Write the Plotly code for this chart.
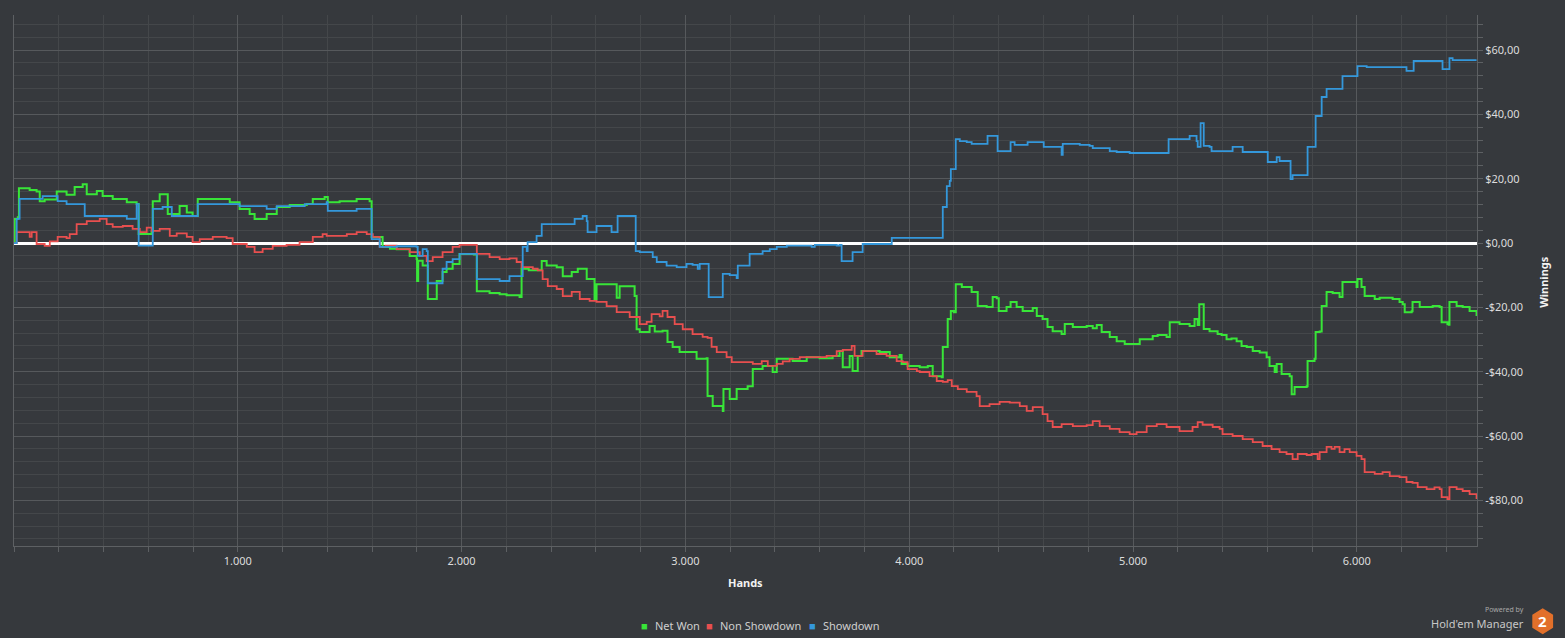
import plotly.graph_objects as go

# Net Won (green) - hands / dollars
net_hands = [0, 3, 17, 22, 70, 101, 115, 137, 191, 235, 271, 307, 325, 370, 396, 441, 504, 548, 557, 615,
             620, 651, 673, 687, 740, 772, 798, 821, 919, 964, 1008, 1053, 1075, 1129, 1174, 1232, 1308, 1335,
             1388, 1402, 1455, 1531, 1589, 1598, 1647, 1680, 1710, 1768, 1799, 1801, 1806, 1826, 1849, 1871,
             1889, 1915, 1933, 1960, 1991, 2036, 2055, 2068, 2125, 2170, 2201, 2259, 2268, 2300, 2358, 2380,
             2425, 2452, 2492, 2519, 2559, 2594, 2603, 2648, 2693, 2706, 2751, 2773, 2782, 2796, 2840, 2863,
             2898, 2920, 2943, 2974, 3010, 3050, 3095, 3099, 3122, 3167, 3170, 3198, 3229, 3278, 3301, 3345,
             3390, 3408, 3479, 3542, 3600, 3658, 3689, 3703, 3734, 3747, 3770, 3787, 3868, 3913, 3957, 3966,
             3993, 4047, 4083, 4105, 4145, 4150, 4163, 4172, 4186, 4199, 4208, 4235, 4279, 4306, 4346, 4373,
             4391, 4400, 4435, 4453, 4480, 4507, 4552, 4570, 4596, 4618, 4641, 4681, 4695, 4731, 4793, 4820,
             4838, 4860, 4896, 4927, 4963, 4999, 5030, 5088, 5110, 5150, 5164, 5208, 5253, 5275, 5289, 5296,
             5311, 5316, 5342, 5378, 5396, 5418, 5440, 5463, 5485, 5508, 5535, 5566, 5597, 5610, 5633, 5642,
             5664, 5700, 5709, 5722, 5776, 5780, 5811, 5816, 5834, 5843, 5856, 5865, 5892, 5923, 5936, 5999,
             6003, 6021, 6035, 6080, 6102, 6160, 6191, 6205, 6214, 6245, 6249, 6281, 6339, 6370, 6379, 6405,
             6410, 6414, 6446, 6473, 6504, 6535]
net_won = [0, 7.5, 8, 17, 16.5, 16, 13, 13.5, 16, 15, 17.4, 18.3, 15.2, 16.2, 14.6, 13.7, 12.7, 12.1, 2.8, 3.5,
           13, 15.2, 15.2, 9, 11.5, 9.5, 8.4, 13.7, 13.7, 12.7, 10.6, 9, 7.5, 9, 11.2, 11.8, 12.1, 13.7,
           14.3, 12.7, 13, 13.7, 13, 1.9, -1.2, -1.8, -1.9, -4, -5, -11.8, -5.5, -7, -17.4, -17.4,
           -11.8, -9, -8, -6.5, -3.4, -3.4, -3.6, -15, -15.5, -15.9, -16.2, -16.8, -8, -8.5, -5.6, -7,
           -7.5, -10.3, -9, -8, -11.2, -17.4, -12.8, -12.8, -17, -13.4, -13.4, -16.5, -26.8, -27.7, -25.8, -27.5,
           -27.3, -30.8, -32.3, -33.9, -33.9, -36, -35.8, -47.6, -50.7, -52.2, -45.4, -48.5, -45.4, -44.5, -39.2, -38.2,
           -40.1, -36, -36.7, -35.5, -35.8, -35.1, -33.6, -38.6, -35.1, -39.8, -35.1, -33.6, -33.9, -35.5, -34.8, -37.6,
           -38.2, -38.6, -38.2, -41.4, -41.7, -32.3, -32.3, -23.6, -21.1, -21.5, -12.8, -13.7, -15.2, -19.6, -19.9, -16.8,
           -17.2, -21.1, -19.9, -18.3, -19.9, -21.1, -20.2, -22.7, -23.6, -26.1, -27.4, -28.3, -25.2, -26.1, -25.8, -26.5,
           -25.5, -27.7, -29.2, -30.5, -31.4, -31.4, -29.9, -28.9, -28.6, -29.2, -24.6, -25.2, -25.8, -23.6, -25.5, -19,
           -19, -26.7, -27.4, -28.3, -28.6, -29.9, -29.7, -30.5, -32, -32.3, -33.6, -34, -35.5, -38.2, -40.1, -37.6,
           -40.7, -41.4, -47, -44.8, -44.5, -36.7, -36, -27.7, -27.5, -19.6, -19.6, -15.2, -15.5, -16.8, -12.1, -13.7,
           -11.2, -13.7, -16.5, -17.4, -17, -17.4, -18.3, -19, -21.5, -21.2, -18.3, -19.9, -19.6, -19.9, -24.6, -25.2,
           -25.4, -18.3, -19.6, -19.9, -21.1, -22.7]

# Non Showdown (red)
nsd_hands = [0, 12, 70, 79, 101, 137, 160, 195, 235, 249, 280, 325, 383, 414, 441, 486, 530, 562, 593, 615,
             651, 696, 727, 772, 798, 830, 888, 950, 977, 1040, 1075, 1111, 1156, 1218, 1276, 1335, 1379, 1397,
             1487, 1531, 1576, 1603, 1634, 1660, 1710, 1768, 1813, 1844, 1871, 1915, 1960, 1991, 2050, 2068,
             2125, 2170, 2214, 2246, 2268, 2318, 2340, 2362, 2385, 2425, 2452, 2492, 2528, 2572, 2603, 2648,
             2693, 2751, 2796, 2827, 2849, 2885, 2898, 2920, 2952, 2988, 3032, 3077, 3099, 3117, 3140, 3184,
             3207, 3256, 3301, 3341, 3368, 3408, 3435, 3466, 3511, 3587, 3631, 3676, 3703, 3743, 3756, 3792,
             3854, 3899, 3944, 3971, 3993, 4034, 4047, 4091, 4123, 4150, 4172, 4190, 4217, 4257, 4301, 4315,
             4359, 4404, 4449, 4494, 4525, 4552, 4596, 4618, 4641, 4681, 4731, 4793, 4820, 4851, 4896, 4940,
             4985, 5016, 5061, 5106, 5150, 5208, 5266, 5289, 5311, 5356, 5387, 5400, 5445, 5490, 5535, 5579,
             5619, 5655, 5686, 5713, 5736, 5776, 5798, 5825, 5834, 5865, 5887, 5901, 5923, 5945, 5968, 5999,
             6021, 6035, 6080, 6115, 6147, 6191, 6222, 6249, 6272, 6312, 6347, 6370, 6379, 6405, 6414, 6446,
             6473, 6504, 6535]
non_showdown = [0, 3.4, 1.9, 3.4, -0.3, -0.9, 0.5, 1.9, 1.5, 2.8, 5.9, 6.8, 7.5, 5.9, 5, 5.3, 4.4, 3.4, 4.8, 3.8,
                4.4, 2.2, 3, 1.9, 0.3, 1.2, 1.9, 1.5, -0.3, -1.2, -2.8, -1.8, -0.9, -0.6, 0.3, 1.9, 2.8, 2.2,
                2.8, 3.4, 2.8, 1.9, -1.2, -0.8, -1.9, -2.8, -4, -5.6, -4.4, -2.8, -1.2, -0.6, -0.6, -3.4,
                -4.4, -5, -4.8, -5.9, -7.5, -8, -8.5, -11.2, -13.4, -14.3, -16.5, -15.2, -17.4, -18, -18.3, -19.6,
                -21.5, -23, -25.2, -24.5, -22.1, -22.8, -21.1, -23, -25.2, -26.8, -28.3, -29.2, -29.5, -32.3, -33.9, -35.5,
                -37, -37, -37.6, -36.7, -38.2, -37.6, -36.8, -36, -35.5, -35.5, -35.1, -33.6, -33.2, -32, -35.1, -33.6,
                -34.5, -35.1, -36.7, -37, -39.2, -39.8, -40.1, -41.4, -42.9, -43.2, -42.6, -44.5, -45.4, -46.3, -47.6, -50.7,
                -50.1, -49.4, -49.6, -50.7, -52.2, -51, -53.2, -55.4, -57.2, -56.3, -56.9, -56.6, -55.4, -56.9, -57.8, -58.8,
                -59.4, -58.8, -56.9, -56.3, -57.2, -58.5, -57.2, -55.7, -56.5, -57.2, -57.8, -59.4, -60, -61, -61.9, -63.1,
                -64.1, -65, -65.6, -67.2, -65.6, -65.9, -65.6, -67.2, -65, -63.4, -64, -63.4, -65, -64.1, -65, -66.2,
                -67.2, -71.2, -71.8, -71.2, -72.5, -72.8, -74.3, -74.6, -75.9, -76.5, -76, -76.5, -79, -79.6, -75.9, -76.5,
                -77.1, -78.1, -79.6]

# Showdown (blue), step values
sd_hands = [0, 12, 25, 128, 195, 235, 316, 504, 548, 557, 615, 620, 664, 705, 821, 995, 1008, 1129, 1165, 1174,
            1299, 1352, 1397, 1402, 1491, 1531, 1598, 1634, 1710, 1799, 1804, 1826, 1844, 1849, 1902, 1915,
            1933, 1960, 1991, 2068, 2170, 2214, 2273, 2291, 2295, 2335, 2358, 2505, 2541, 2559, 2563, 2603,
            2670, 2697, 2778, 2796, 2854, 2872, 2916, 2961, 3005, 3032, 3055, 3064, 3104, 3167, 3198, 3229,
            3234, 3287, 3345, 3377, 3408, 3453, 3564, 3578, 3676, 3689, 3698, 3747, 3792, 3922, 4150, 4168,
            4181, 4186, 4208, 4226, 4257, 4279, 4350, 4395, 4453, 4471, 4529, 4601, 4681, 4686, 4762, 4806,
            4820, 4896, 4927, 4985, 5159, 5253, 5284, 5289, 5302, 5316, 5342, 5351, 5445, 5490, 5602, 5642,
            5655, 5704, 5713, 5780, 5816, 5843, 5865, 5936, 6003, 6044, 6222, 6254, 6383, 6414, 6428, 6535]
showdown = [0, 7.5, 13.7, 14.6, 13, 12.1, 8.4, 7.5, 12.1, -0.8, -0.8, 10.6, 11.2, 8.4, 12.1, 12.1, 11.5, 10.6, 10.6, 11.5,
            12.1, 12.1, 12.7, 10, 10, 10.6, 1.2, -1.2, -1, -1.2, -4, -1.9, -2.5, -12.5, -12.5, -8,
            -5.9, -5, -3.4, -11.2, -11.8, -10.3, -1.2, -2.5, 0.3, 2.2, 5.9, 7.5, 8.4, 6.8, 3.4, 5.3,
            3.4, 8.4, -2.5, -2.8, -4.4, -5.9, -7, -7.5, -6.5, -6.8, -8, -6.5, -16.8, -9.6, -10, -10.9,
            -7, -3.4, -2.5, -1.9, -1.2, -0.8, -1.2, -0.6, -0.8, -0.6, -5.6, -2.8, -0.3, 1.6, 11.2, 17.7,
            19.3, 23, 32.3, 31.7, 31.4, 30.8, 33.3, 28.6, 31.4, 30.5, 31.4, 29.9, 27.4, 30.8, 30.5, 30.2,
            29.5, 28.6, 28.3, 28, 32.3, 33.3, 31.7, 29.9, 37.3, 30.2, 29.9, 28.6, 29.9, 28.3, 25.2, 26.7,
            25.5, 19.9, 21.1, 29.9, 39.5, 45.4, 47.9, 51.9, 55, 54.7, 53.5, 56.6, 54.1, 57.5, 56.9, 56.9]

y_tick_vals = [-80, -60, -40, -20, 0, 20, 40, 60]
y_tick_text = ['-$80,00', '-$60,00', '-$40,00', '-$20,00', '$0,00', '$20,00', '$40,00', '$60,00']
x_tick_vals = [1000, 2000, 3000, 4000, 5000, 6000]
x_tick_text = ['1.000', '2.000', '3.000', '4.000', '5.000', '6.000']

GREEN = '#38e538'
RED = '#e84f4f'
BLUE = '#3498db'
BG = '#36393d'
FONT = 'Noto Sans'

fig = go.Figure()
fig.add_trace(go.Scatter(x=net_hands, y=net_won, mode='lines', name='Net Won',
                         line=dict(color=GREEN, width=2, shape='hv')))
fig.add_trace(go.Scatter(x=nsd_hands, y=non_showdown, mode='lines', name='Non Showdown',
                         line=dict(color=RED, width=1.8, shape='hv')))
fig.add_trace(go.Scatter(x=sd_hands, y=showdown, mode='lines', name='Showdown',
                         line=dict(color=BLUE, width=1.8, shape='hv')))


def px_x(p):
    return (p - 14.3) / 1463


def px_y(p):
    return (545.7 - p) / 530.7


# legend drawn as text under the axis (square swatch + label)
legend_items = [('Net Won', GREEN, 645, 653), ('Non Showdown', RED, 710, 718), ('Showdown', BLUE, 813, 821)]
annotations = [
    dict(text='<b>Hands</b>', x=0.5, y=px_y(582), xanchor='center', font=dict(size=11, color='#f2f2f2')),
    dict(text='<b>Winnings</b>', x=px_x(1543), y=px_y(282), xanchor='center', textangle=-90,
         font=dict(size=11, color='#f2f2f2')),
    dict(text='Powered by', x=px_x(1526), y=px_y(609), xanchor='right',
         font=dict(size=7, color='#a8a8a8')),
    dict(text="Hold'em Manager", x=px_x(1526), y=px_y(623), xanchor='right',
         font=dict(size=11, color='#c8c8c8')),
    dict(text='<b>2</b>', x=px_x(1543), y=px_y(621), xanchor='center', font=dict(size=15, color='#ffffff')),
]
for name, col, sq, tx in legend_items:
    annotations.append(dict(text='■', x=px_x(sq), y=px_y(625), xanchor='center',
                            font=dict(size=11, color=col)))
    annotations.append(dict(text=name, x=px_x(tx), y=px_y(625), xanchor='left',
                            font=dict(size=11, color='#cfcfcf')))
for a in annotations:
    a.update(xref='paper', yref='paper', yanchor='middle', showarrow=False)

fig.update_layout(
    width=1565, height=638, autosize=False,
    margin=dict(l=14, r=88, t=15, b=92),
    paper_bgcolor=BG, plot_bgcolor=BG,
    font=dict(family=FONT, size=11, color='#dcdcdc'),
    showlegend=False,
    xaxis=dict(range=[0, 6537], tickvals=x_tick_vals, ticktext=x_tick_text,
               showgrid=True, gridcolor='#56595c', gridwidth=1,
               ticks='outside', ticklen=5, tickcolor='#5d6063',
               minor=dict(dtick=200, showgrid=True, gridcolor='#44474a', ticks='outside',
                          ticklen=5, tickcolor='#5d6063'),
               showline=True, linecolor='#5d6063', linewidth=1,
               zeroline=False, tickfont=dict(size=11, color='#dcdcdc')),
    yaxis=dict(range=[-94.2, 70.9], side='right', tickvals=y_tick_vals, ticktext=y_tick_text,
               showgrid=True, gridcolor='#56595c', gridwidth=1,
               ticks='outside', ticklen=5, tickcolor='#5d6063',
               minor=dict(dtick=4, tick0=0, showgrid=True, gridcolor='#44474a', ticks='outside',
                          ticklen=5, tickcolor='#5d6063'),
               showline=True, linecolor='#5d6063', linewidth=1, mirror=True,
               zeroline=True, zerolinecolor='#ffffff', zerolinewidth=3,
               tickfont=dict(size=11, color='#dcdcdc')),
    annotations=annotations,
)

# orange hexagon badge
hx = [1543, 1553.4, 1553.4, 1543, 1532.6, 1532.6]
hy = [608, 614.5, 627.5, 634, 627.5, 614.5]
path = 'M ' + ' L '.join(f'{px_x(a):.5f},{px_y(b):.5f}' for a, b in zip(hx, hy)) + ' Z'
fig.add_shape(type='path', path=path, xref='paper', yref='paper',
              fillcolor='#e2702a', line=dict(width=0), layer='below')

fig.write_html("out.html", config={'displayModeBar': False},
               post_script="document.body.style.margin='0px';")
